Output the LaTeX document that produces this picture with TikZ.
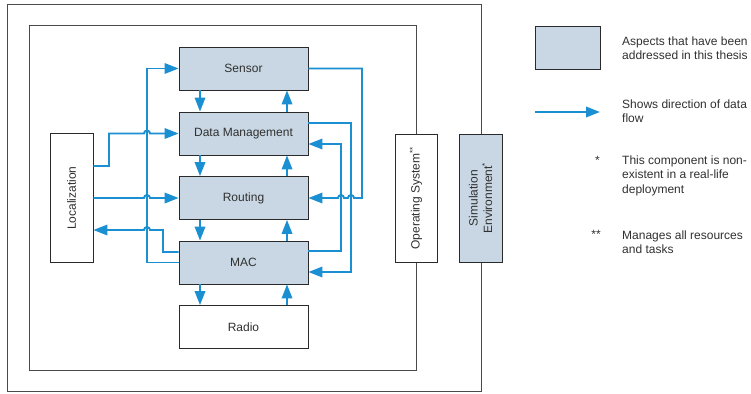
\documentclass[tikz,border=0pt]{standalone}
\usepackage{fontspec}
\setmainfont{Liberation Sans}
\usetikzlibrary{arrows.meta}
\definecolor{boxfill}{HTML}{C8D7E3}
\definecolor{flowblue}{HTML}{1A8FD1}
\definecolor{edge}{HTML}{2A2A2A}
\definecolor{framegray}{HTML}{4A4A4A}
\definecolor{ink}{HTML}{303030}
\tikzset{
  txt/.style={font=\fontsize{12}{14.5}\selectfont, text=ink},
  block/.style={draw=edge, line width=0.9pt, minimum width=129pt, minimum height=43pt, inner sep=0pt, txt},
  done/.style={block, fill=boxfill},
  plain/.style={block, fill=white},
  tall/.style={minimum width=43pt, minimum height=129pt},
  frame/.style={draw=framegray, line width=1pt},
  flow/.style={draw=flowblue, line width=1.9pt, -{Triangle[length=14pt, width=10.5pt]}},
  legtext/.style={txt, align=left, anchor=west, inner sep=0pt},
}
\begin{document}
\begin{tikzpicture}[x=1pt, y=-1pt]
\useasboundingbox (0,0) rectangle (751,393);

% nested frames: node platform and surrounding system
\draw[frame] (7,5) rectangle (481,391);
\draw[frame] (29,26) rectangle (416,370);

% protocol stack
\node[done]  (sensor) at (243.5,68.5) {Sensor};
\node[done]  (dm)     at (243.5,133.5) {Data Management};
\node[done]  (rout)   at (243.5,198) {Routing};
\node[done]  (mac)    at (243.5,262.5) {MAC};
\node[plain] (radio)  at (243.5,327) {Radio};

% side blocks with vertical labels
\node[plain, tall] (loc) at (71.5,198) {};
\node[txt, rotate=90] (loc-t) at (loc) {Localization};
\node[plain, tall, minimum width=42pt, minimum height=128pt] (os) at (416,198) {};
\node[txt, rotate=90] (os-t) at (os) {Operating System\textsuperscript{**}};
\node[done, tall, minimum height=128pt] (sim) at (480.5,198) {};
\node[txt, rotate=90, align=center] (sim-t) at (sim) {Simulation\\Environment\textsuperscript{*}};

% vertical data flow between stacked layers
\foreach \a/\b in {sensor/dm, dm/rout, rout/mac, mac/radio} {
  \draw[flow] (\a.south -| 200,0) -- (\b.north -| 200,0);
  \draw[flow] (\b.north -| 287,0) -- (\a.south -| 287,0);
}

% left side connections
\draw[flow] (mac.west) -| (147,68.5) -- (sensor.west);
\draw[flow] (loc.east |- 0,166) -| (109,133.5) -- (144,133.5)
  arc[start angle=180, end angle=0, radius=3pt] -- (dm.west);
\draw[flow] (loc.east) -- (144,198)
  arc[start angle=180, end angle=0, radius=3pt] -- (rout.west);
\draw[flow] (mac.west |- 0,252) -| (163,230) -- (150,230)
  arc[start angle=0, end angle=180, radius=3pt] -- (loc.east |- 0,230);

% right side connections
\draw[flow] (sensor.east) -| (362,198) -- (354,198)
  arc[start angle=0, end angle=180, radius=3pt] -- (344,198)
  arc[start angle=0, end angle=180, radius=3pt] -- (rout.east);
\draw[flow] (dm.east |- 0,123) -| (351,272) -- (mac.east |- 0,272);
\draw[flow] (mac.east |- 0,251) -| (341,144) -- (dm.east |- 0,144);

% legend
\node[done, minimum width=65pt] (key-box) at (567.5,47.5) {};
\node[legtext] (key-box-t) at (622,48) {Aspects that have been\\addressed in this thesis};
\coordinate (key-a) at (535,112);
\coordinate (key-b) at (600,112);
\draw[flow] (key-a) -- (key-b);
\node[legtext] (key-flow-t) at (622,111) {Shows direction of data\\flow};
\node[txt, anchor=base, inner sep=0pt] (key-s1) at (597.5,164) {*};
\node[legtext] (key-s1-t) at (622,175.5) {This component is non-\\existent in a real-life\\deployment};
\node[txt, anchor=base, inner sep=0pt] (key-s2) at (596,238) {**};
\node[legtext] (key-s2-t) at (622,242) {Manages all resources\\and tasks};
\end{tikzpicture}
\end{document}
